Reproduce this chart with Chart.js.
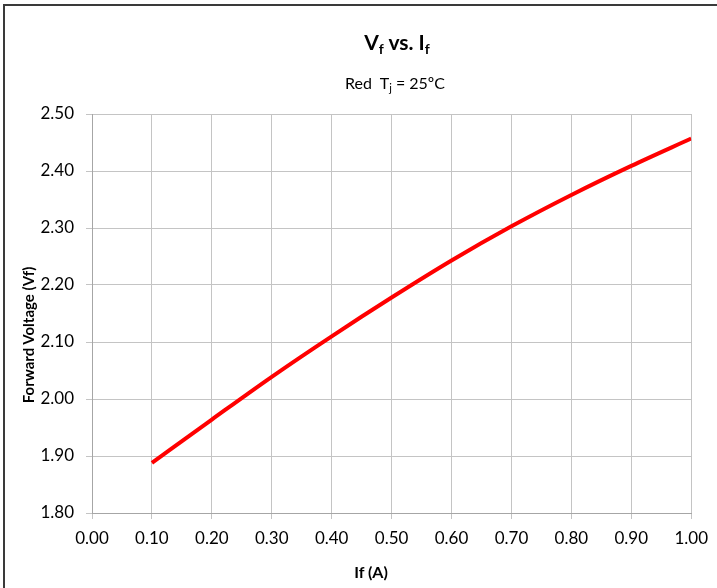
<!DOCTYPE html>
<html>
<head>
<meta charset="utf-8">
<script src="https://cdn.jsdelivr.net/npm/chart.js@4.4.1/dist/chart.umd.min.js"></script>
<style>
  html, body { margin: 0; padding: 0; background: #fff; }
  #wrap { position: relative; width: 717px; height: 588px; overflow: hidden; font-family: Lato, "Open Sans", sans-serif; color: #000; }
  #frame { position: absolute; left: 3px; top: 4px; right: -10px; bottom: -10px; border-left: 2px solid #3a3a3a; border-top: 2px solid #3a3a3a; }
  canvas { position: absolute; left: 0; top: 0; }
  .txt { position: absolute; white-space: nowrap; }
  #title { left: 397px; top: 29px; transform: translateX(-50%); font-weight: bold; font-size: 21px; }
  #title sub { font-size: 14px; vertical-align: -4px; }
  #subtitle { left: 395px; top: 73px; transform: translateX(-50%); font-size: 16px; }
  #subtitle sub { font-size: 11px; vertical-align: -3px; }
  #ytitle { left: 28px; top: 335px; transform: translate(-50%, -50%) rotate(-90deg); font-weight: bold; font-size: 15px; }
  #xtitle { left: 371px; top: 562px; transform: translateX(-50%); font-weight: bold; font-size: 16px; }
</style>
</head>
<body>
<div id="wrap">
  <canvas id="c" width="717" height="588"></canvas>
  <div id="frame"></div>
  <div id="title" class="txt">V<sub>f</sub> vs. I<sub>f</sub></div>
  <div id="subtitle" class="txt">Red&nbsp; T<sub>j</sub> = 25ºC</div>
  <div id="ytitle" class="txt">Forward Voltage (Vf)</div>
  <div id="xtitle" class="txt">If (A)</div>
</div>
<script>
const currentA = [0.10, 0.20, 0.30, 0.40, 0.50, 0.60, 0.70, 0.80, 0.90, 1.00];
const forwardV = [1.888, 1.964, 2.039, 2.110, 2.178, 2.243, 2.303, 2.358, 2.409, 2.457];
const xTickLabels = ['0.00','0.10','0.20','0.30','0.40','0.50','0.60','0.70','0.80','0.90','1.00'];
const yTickLabels = ['1.80','1.90','2.00','2.10','2.20','2.30','2.40','2.50'];

const points = currentA.map((x, i) => ({ x: x, y: forwardV[i] }));
const gridColor = '#c4c4c4';
const tickFont = { family: 'Lato, "Open Sans", sans-serif', size: 17 };

new Chart(document.getElementById('c'), {
  type: 'line',
  data: {
    datasets: [{
      data: points,
      borderColor: '#ff0000',
      borderWidth: 4,
      pointRadius: 0,
      fill: false,
      cubicInterpolationMode: 'monotone'
    }]
  },
  options: {
    responsive: false,
    devicePixelRatio: 1,
    animation: false,
    layout: { padding: { left: 4, top: 114, right: 24, bottom: 0 } },
    plugins: { legend: { display: false }, tooltip: { enabled: false } },
    scales: {
      x: {
        type: 'linear',
        min: 0, max: 1,
        afterBuildTicks: (s) => { s.ticks = xTickLabels.map(v => ({ value: parseFloat(v) })); },
        afterFit: (s) => { s.height = 75; },
        ticks: {
          color: '#000',
          font: tickFont,
          padding: 9,
          maxRotation: 0,
          autoSkip: false,
          callback: (v, i) => xTickLabels[i]
        },
        grid: { color: gridColor, lineWidth: 1, tickLength: 6, drawTicks: true },
        border: { color: '#a6a6a6', width: 1 }
      },
      y: {
        type: 'linear',
        min: 1.8, max: 2.5,
        afterBuildTicks: (s) => { s.ticks = yTickLabels.map(v => ({ value: parseFloat(v) })); },
        afterFit: (s) => { s.width = 88; },
        ticks: {
          color: '#000',
          font: tickFont,
          padding: 12,
          autoSkip: false,
          callback: (v, i) => yTickLabels[i]
        },
        grid: { color: gridColor, lineWidth: 1, tickLength: 6, drawTicks: true },
        border: { color: '#a6a6a6', width: 1 }
      }
    }
  }
});
</script>
</body>
</html>
